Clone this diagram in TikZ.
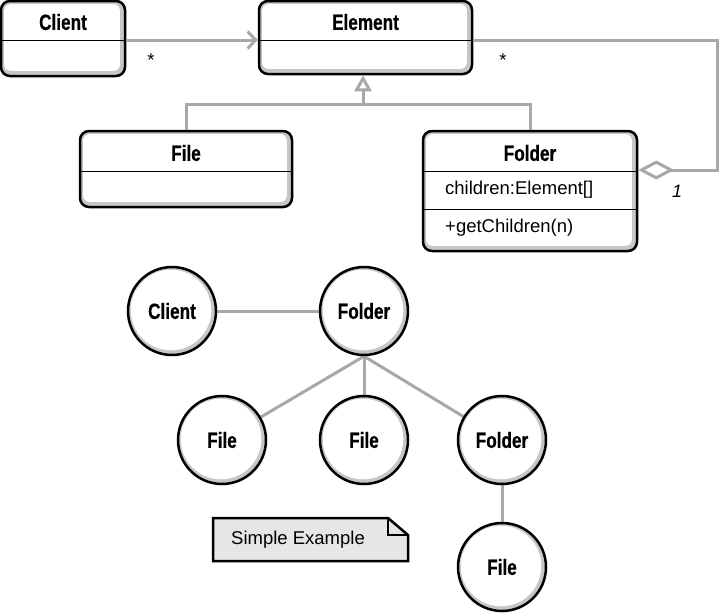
\documentclass[tikz,border=0pt]{standalone}
\usepackage{fontspec}
\setmainfont{Liberation Sans}
\newfontfamily\condfont[FakeStretch=0.78,FakeBold=0.6]{Liberation Sans}
\usetikzlibrary{arrows.meta,backgrounds}
\definecolor{linegray}{HTML}{A6A8AB}
\definecolor{shadegray}{HTML}{C4C6C8}
\definecolor{notegray}{HTML}{E6E6E6}
\tikzset{
  umlbox/.style={draw=black, line width=2.5pt, fill=shadegray, rounded corners=9pt, inner sep=0pt,
    path picture={\fill[white, rounded corners=6pt]
      ([shift={(3.2pt,5.2pt)}]path picture bounding box.south west) rectangle
      ([shift={(-5.2pt,-3.2pt)}]path picture bounding box.north east);}},
  umlcirc/.style={circle, draw=black, line width=2.5pt, fill=shadegray, minimum size=88pt, inner sep=0pt,
    font=\condfont\bfseries\fontsize{22}{26}\selectfont,
    path picture={\fill[white] ([shift={(-1pt,1pt)}]path picture bounding box.center) circle (40.3pt);}},
  titletext/.style={font=\condfont\bfseries\fontsize{22}{26}\selectfont, inner sep=0pt},
  plaintext/.style={font=\fontsize{18.5}{22}\selectfont, inner sep=0pt},
  divider/.style={black, line width=1pt},
  conn/.style={linegray, line width=3pt},
}
\begin{document}
\begin{tikzpicture}[x=1pt,y=-1pt]
\useasboundingbox (0,0) rectangle (719,614);
% class boxes
\node[umlbox, minimum width=124pt, minimum height=75pt] (client) at (63,38.5) {};
\node[umlbox, minimum width=213pt, minimum height=73pt] (element) at (365.5,37.5) {};
\node[umlbox, minimum width=212pt, minimum height=76pt] (file) at (186,169) {};
\node[umlbox, minimum width=214pt, minimum height=120pt] (folder) at (530,191) {};
\coordinate (arr) at (0,40);
\coordinate (fdiv1) at (0,171);
\coordinate (fdiv2) at (0,209);
\draw[divider] (client.west |- arr) -- (client.east |- arr);
\draw[divider] (element.west |- arr) -- (element.east |- arr);
\draw[divider] (file.west |- fdiv1) -- (file.east |- fdiv1);
\draw[divider] (folder.west |- fdiv1) -- (folder.east |- fdiv1);
\draw[divider] (folder.west |- fdiv2) -- (folder.east |- fdiv2);
\node[titletext] (clientT) at (63,22) {Client};
\node[titletext] (elementT) at (365.5,22) {Element};
\node[titletext] (fileT) at (186,153) {File};
\node[titletext] (folderT) at (530,153) {Folder};
\node[plaintext, anchor=west] (folderA) at (445,190) {children:Element[]};
\node[plaintext, anchor=west] (folderM) at (445,228) {+getChildren(n)};
% class connectors
\draw[conn, -{Straight Barb[length=8pt 0 0, width=17pt 0 0]}] (client.east |- arr) -- (element.west |- arr);
\node[plaintext] (star1) at (151,60) {*};
\node[plaintext] (star2) at (503,60) {*};
\coordinate (gen) at (363,104);
\draw[conn] (file.north) |- (gen) -| (folder.north);
\draw[conn, -{Triangle[open, length=16pt 0 0, width=17pt 0 0]}] (gen) -- (gen |- element.south);
\coordinate (aggy) at (0,170);
\coordinate (corner) at (717,0);
\draw[conn, {Diamond[open, length=36pt 0 0, width=19pt 0 0]}-] (folder.east |- aggy) -- (corner |- aggy) -- (corner |- arr) -- (element.east |- arr);
\node[plaintext, font=\itshape\fontsize{18}{21}\selectfont] (one) at (677,191) {1};
% object graph
\node[umlcirc] (cclient) at (172,311) {Client};
\node[umlcirc] (cfolder) at (364,311) {Folder};
\node[umlcirc] (cfile1) at (222,440) {File};
\node[umlcirc] (cfile2) at (364,440) {File};
\node[umlcirc] (cfolder2) at (502,440) {Folder};
\node[umlcirc] (cfile3) at (502,567) {File};
\begin{scope}[on background layer]
\draw[conn] (cclient) -- (cfolder);
\draw[conn] (cfolder.south) -- (cfile1);
\draw[conn] (cfolder.south) -- (cfile2);
\draw[conn] (cfolder.south) -- (cfolder2);
\draw[conn] (cfolder2) -- (cfile3);
\end{scope}
% note
\coordinate (n1) at (213,518);
\coordinate (n2) at (388,518);
\coordinate (n3) at (408,535);
\coordinate (n4) at (408,561);
\coordinate (n5) at (213,561);
\coordinate (n6) at (388,535);
\draw[black, line width=2.5pt, fill=notegray, line join=miter] (n1) -- (n2) -- (n3) -- (n4) -- (n5) -- cycle;
\draw[black, line width=2.5pt, line join=miter] (n2) -- (n6) -- (n3);
\node[plaintext, anchor=west] (noteT) at (231,540) {Simple Example};
\end{tikzpicture}
\end{document}
